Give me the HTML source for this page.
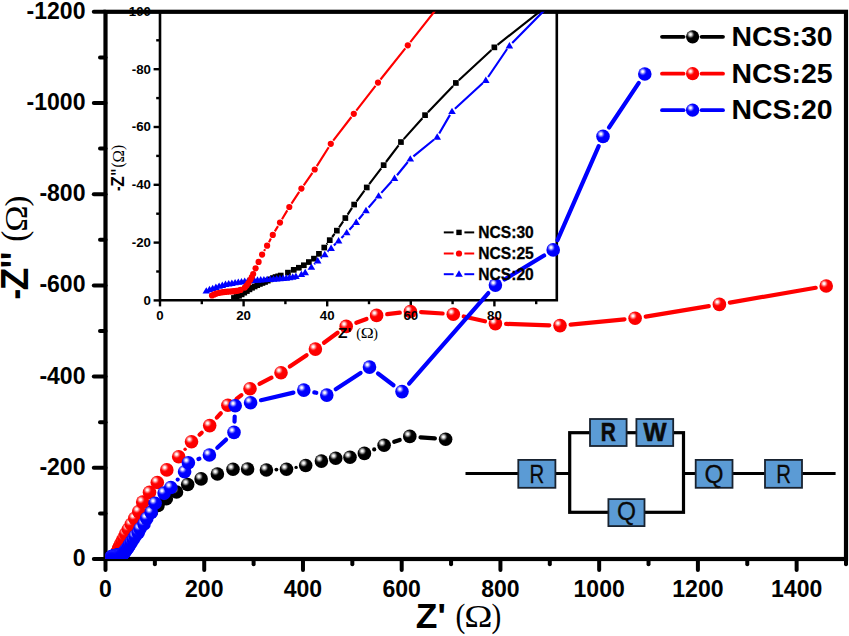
<!DOCTYPE html>
<html><head><meta charset="utf-8"><title>Nyquist plot</title>
<style>
html,body{margin:0;padding:0;background:#fff;}
body{width:849px;height:636px;overflow:hidden;font-family:"Liberation Sans",sans-serif;}
svg{display:block;}
</style></head><body>
<svg width="849" height="636" viewBox="0 0 849 636">
<defs>
<radialGradient id="gk" cx="0.35" cy="0.33" r="0.62" fx="0.34" fy="0.32">
<stop offset="0" stop-color="#ffffff"/><stop offset="0.11" stop-color="#f2f2f2"/><stop offset="0.27" stop-color="#8a8a8a"/><stop offset="0.42" stop-color="#161616"/><stop offset="0.52" stop-color="#000"/><stop offset="1" stop-color="#000"/>
</radialGradient>
<radialGradient id="gr" cx="0.35" cy="0.33" r="0.62" fx="0.34" fy="0.32">
<stop offset="0" stop-color="#ffffff"/><stop offset="0.11" stop-color="#fff0f0"/><stop offset="0.27" stop-color="#ff7878"/><stop offset="0.42" stop-color="#ff1212"/><stop offset="0.52" stop-color="#ff0000"/><stop offset="1" stop-color="#fa0000"/>
</radialGradient>
<radialGradient id="gb" cx="0.35" cy="0.33" r="0.62" fx="0.34" fy="0.32">
<stop offset="0" stop-color="#ffffff"/><stop offset="0.11" stop-color="#f0f0ff"/><stop offset="0.27" stop-color="#7878ff"/><stop offset="0.42" stop-color="#1212ff"/><stop offset="0.52" stop-color="#0000ff"/><stop offset="1" stop-color="#0000fa"/>
</radialGradient>
<clipPath id="cm"><rect x="105.5" y="11.8" width="740.5" height="547.2"/></clipPath>
<clipPath id="ci"><rect x="160" y="11.8" width="396.8" height="288.6"/></clipPath>
</defs>
<rect x="0" y="0" width="849" height="636" fill="#fff"/>
<rect x="105.5" y="11.8" width="740.5" height="547.2" fill="none" stroke="#000" stroke-width="4.2"/>
<g stroke="#000" stroke-width="4" stroke-linecap="round">
<line x1="93.8" y1="559.00" x2="105.5" y2="559.00"/>
<line x1="100" y1="513.40" x2="105.5" y2="513.40"/>
<line x1="93.8" y1="467.80" x2="105.5" y2="467.80"/>
<line x1="100" y1="422.20" x2="105.5" y2="422.20"/>
<line x1="93.8" y1="376.60" x2="105.5" y2="376.60"/>
<line x1="100" y1="331.00" x2="105.5" y2="331.00"/>
<line x1="93.8" y1="285.40" x2="105.5" y2="285.40"/>
<line x1="100" y1="239.80" x2="105.5" y2="239.80"/>
<line x1="93.8" y1="194.20" x2="105.5" y2="194.20"/>
<line x1="100" y1="148.60" x2="105.5" y2="148.60"/>
<line x1="93.8" y1="103.00" x2="105.5" y2="103.00"/>
<line x1="100" y1="57.40" x2="105.5" y2="57.40"/>
<line x1="93.8" y1="11.80" x2="105.5" y2="11.80"/>
<line x1="105.50" y1="559.0" x2="105.50" y2="570"/>
<line x1="154.87" y1="559.0" x2="154.87" y2="564.2"/>
<line x1="204.23" y1="559.0" x2="204.23" y2="570"/>
<line x1="253.60" y1="559.0" x2="253.60" y2="564.2"/>
<line x1="302.97" y1="559.0" x2="302.97" y2="570"/>
<line x1="352.33" y1="559.0" x2="352.33" y2="564.2"/>
<line x1="401.70" y1="559.0" x2="401.70" y2="570"/>
<line x1="451.07" y1="559.0" x2="451.07" y2="564.2"/>
<line x1="500.43" y1="559.0" x2="500.43" y2="570"/>
<line x1="549.80" y1="559.0" x2="549.80" y2="564.2"/>
<line x1="599.17" y1="559.0" x2="599.17" y2="570"/>
<line x1="648.53" y1="559.0" x2="648.53" y2="564.2"/>
<line x1="697.90" y1="559.0" x2="697.90" y2="570"/>
<line x1="747.27" y1="559.0" x2="747.27" y2="564.2"/>
<line x1="796.63" y1="559.0" x2="796.63" y2="570"/>
<line x1="846.00" y1="559.0" x2="846.00" y2="564.2"/>
</g>
<path d="M160.0,11.8 V300.3 H556.8 V11.8" fill="none" stroke="#000" stroke-width="2.6"/>
<g stroke="#000" stroke-width="2.4">
<line x1="153.6" y1="300.40" x2="160.0" y2="300.40"/>
<line x1="156.2" y1="271.50" x2="160.0" y2="271.50"/>
<line x1="153.6" y1="242.60" x2="160.0" y2="242.60"/>
<line x1="156.2" y1="213.70" x2="160.0" y2="213.70"/>
<line x1="153.6" y1="184.80" x2="160.0" y2="184.80"/>
<line x1="156.2" y1="155.90" x2="160.0" y2="155.90"/>
<line x1="153.6" y1="127.00" x2="160.0" y2="127.00"/>
<line x1="156.2" y1="98.10" x2="160.0" y2="98.10"/>
<line x1="153.6" y1="69.20" x2="160.0" y2="69.20"/>
<line x1="156.2" y1="40.30" x2="160.0" y2="40.30"/>
<line x1="160.00" y1="300.3" x2="160.00" y2="306.4"/>
<line x1="201.80" y1="300.3" x2="201.80" y2="304.2"/>
<line x1="243.60" y1="300.3" x2="243.60" y2="306.4"/>
<line x1="285.40" y1="300.3" x2="285.40" y2="304.2"/>
<line x1="327.20" y1="300.3" x2="327.20" y2="306.4"/>
<line x1="369.00" y1="300.3" x2="369.00" y2="304.2"/>
<line x1="410.80" y1="300.3" x2="410.80" y2="306.4"/>
<line x1="452.60" y1="300.3" x2="452.60" y2="304.2"/>
<line x1="494.40" y1="300.3" x2="494.40" y2="306.4"/>
<line x1="536.20" y1="300.3" x2="536.20" y2="304.2"/>
</g>
<g clip-path="url(#cm)">
<g stroke="#000" stroke-width="4.2" fill="none">
<line x1="394.2" y1="441.8" x2="399.7" y2="439.9" stroke-linecap="round"/>
<line x1="420.5" y1="437.3" x2="434.9" y2="438.4" stroke-linecap="round"/>
</g>
<g fill="#000"><circle cx="276.4" cy="469.6" r="1.96"/><circle cx="296.1" cy="467.4" r="1.69"/><circle cx="374.2" cy="449.4" r="2.10"/></g>
<g fill="url(#gk)">
<circle cx="114.2" cy="558.2" r="6.8"/>
<circle cx="114.5" cy="558.1" r="6.8"/>
<circle cx="114.8" cy="557.9" r="6.8"/>
<circle cx="115.2" cy="557.6" r="6.8"/>
<circle cx="115.5" cy="557.4" r="6.8"/>
<circle cx="115.8" cy="557.1" r="6.8"/>
<circle cx="116.1" cy="556.9" r="6.8"/>
<circle cx="116.4" cy="556.6" r="6.8"/>
<circle cx="116.7" cy="556.4" r="6.8"/>
<circle cx="117.0" cy="556.2" r="6.8"/>
<circle cx="117.3" cy="556.0" r="6.8"/>
<circle cx="117.6" cy="555.9" r="6.8"/>
<circle cx="117.9" cy="555.7" r="6.8"/>
<circle cx="118.2" cy="555.5" r="6.8"/>
<circle cx="118.5" cy="555.3" r="6.8"/>
<circle cx="118.8" cy="555.1" r="6.8"/>
<circle cx="119.1" cy="554.9" r="6.8"/>
<circle cx="119.5" cy="554.8" r="6.8"/>
<circle cx="119.8" cy="554.7" r="6.8"/>
<circle cx="120.6" cy="554.2" r="6.8"/>
<circle cx="121.3" cy="553.8" r="6.8"/>
<circle cx="121.9" cy="553.5" r="6.8"/>
<circle cx="122.5" cy="553.1" r="6.8"/>
<circle cx="123.1" cy="552.6" r="6.8"/>
<circle cx="123.7" cy="552.0" r="6.8"/>
<circle cx="124.3" cy="551.3" r="6.8"/>
<circle cx="124.9" cy="550.3" r="6.8"/>
<circle cx="125.6" cy="549.1" r="6.8"/>
<circle cx="126.4" cy="547.6" r="6.8"/>
<circle cx="127.4" cy="545.6" r="6.8"/>
<circle cx="128.4" cy="543.5" r="6.8"/>
<circle cx="129.9" cy="540.8" r="6.8"/>
<circle cx="131.9" cy="537.3" r="6.8"/>
<circle cx="134.0" cy="533.6" r="6.8"/>
<circle cx="136.8" cy="529.4" r="6.8"/>
<circle cx="140.5" cy="524.3" r="6.8"/>
<circle cx="145.0" cy="518.7" r="6.8"/>
<circle cx="151.3" cy="512.0" r="6.8"/>
<circle cx="158.0" cy="505.5" r="6.8"/>
<circle cx="166.3" cy="498.7" r="6.8"/>
<circle cx="176.5" cy="492.0" r="6.8"/>
<circle cx="187.7" cy="484.5" r="6.8"/>
<circle cx="201.1" cy="478.9" r="6.8"/>
<circle cx="217.4" cy="474.0" r="6.8"/>
<circle cx="233.0" cy="469.3" r="6.8"/>
<circle cx="247.6" cy="469.0" r="6.8"/>
<circle cx="266.4" cy="470.0" r="6.8"/>
<circle cx="286.5" cy="469.3" r="6.8"/>
<circle cx="305.7" cy="465.5" r="6.8"/>
<circle cx="321.4" cy="461.1" r="6.8"/>
<circle cx="335.7" cy="458.2" r="6.8"/>
<circle cx="350.0" cy="457.3" r="6.8"/>
<circle cx="364.4" cy="453.4" r="6.8"/>
<circle cx="384.1" cy="445.3" r="6.8"/>
<circle cx="409.8" cy="436.4" r="6.8"/>
<circle cx="445.6" cy="439.3" r="6.8"/>
</g>
<g stroke="#ff0000" stroke-width="4.2" fill="none">
<line x1="199.5" y1="434.7" x2="201.7" y2="432.7" stroke-linecap="round"/>
<line x1="216.8" y1="417.6" x2="220.8" y2="413.3" stroke-linecap="round"/>
<line x1="236.5" y1="398.9" x2="241.4" y2="395.1" stroke-linecap="round"/>
<line x1="259.5" y1="383.8" x2="271.5" y2="377.6" stroke-linecap="round"/>
<line x1="289.8" y1="366.6" x2="306.6" y2="355.2" stroke-linecap="round"/>
<line x1="324.0" y1="342.8" x2="337.6" y2="332.7" stroke-linecap="round"/>
<line x1="356.3" y1="322.8" x2="366.5" y2="319.0" stroke-linecap="round"/>
<line x1="387.2" y1="314.2" x2="399.8" y2="312.7" stroke-linecap="round"/>
<line x1="421.1" y1="312.2" x2="442.6" y2="313.5" stroke-linecap="round"/>
<line x1="463.7" y1="316.5" x2="485.0" y2="321.3" stroke-linecap="round"/>
<line x1="506.1" y1="323.9" x2="549.3" y2="325.3" stroke-linecap="round"/>
<line x1="570.6" y1="324.6" x2="624.5" y2="319.3" stroke-linecap="round"/>
<line x1="645.7" y1="316.6" x2="708.8" y2="306.1" stroke-linecap="round"/>
<line x1="729.9" y1="302.6" x2="815.7" y2="287.8" stroke-linecap="round"/>
</g>
<g fill="#ff0000"><circle cx="185.1" cy="449.2" r="1.72"/></g>
<g fill="url(#gr)">
<circle cx="111.6" cy="557.8" r="6.8"/>
<circle cx="111.9" cy="557.6" r="6.8"/>
<circle cx="112.2" cy="557.5" r="6.8"/>
<circle cx="112.4" cy="557.4" r="6.8"/>
<circle cx="112.7" cy="557.4" r="6.8"/>
<circle cx="112.9" cy="557.3" r="6.8"/>
<circle cx="113.2" cy="557.3" r="6.8"/>
<circle cx="113.5" cy="557.2" r="6.8"/>
<circle cx="113.7" cy="557.2" r="6.8"/>
<circle cx="114.0" cy="557.2" r="6.8"/>
<circle cx="114.2" cy="557.1" r="6.8"/>
<circle cx="114.5" cy="557.1" r="6.8"/>
<circle cx="114.8" cy="557.1" r="6.8"/>
<circle cx="115.0" cy="556.9" r="6.8"/>
<circle cx="115.5" cy="556.6" r="6.8"/>
<circle cx="115.7" cy="556.3" r="6.8"/>
<circle cx="115.9" cy="555.9" r="6.8"/>
<circle cx="116.2" cy="555.4" r="6.8"/>
<circle cx="116.3" cy="554.9" r="6.8"/>
<circle cx="116.5" cy="554.4" r="6.8"/>
<circle cx="116.8" cy="553.5" r="6.8"/>
<circle cx="117.1" cy="552.5" r="6.8"/>
<circle cx="117.6" cy="551.4" r="6.8"/>
<circle cx="118.2" cy="550.0" r="6.8"/>
<circle cx="118.8" cy="548.3" r="6.8"/>
<circle cx="119.7" cy="546.3" r="6.8"/>
<circle cx="120.8" cy="543.9" r="6.8"/>
<circle cx="122.2" cy="541.0" r="6.8"/>
<circle cx="123.8" cy="538.0" r="6.8"/>
<circle cx="125.7" cy="533.9" r="6.8"/>
<circle cx="128.4" cy="529.2" r="6.8"/>
<circle cx="131.3" cy="524.3" r="6.8"/>
<circle cx="134.8" cy="518.4" r="6.8"/>
<circle cx="138.8" cy="511.6" r="6.8"/>
<circle cx="142.7" cy="502.1" r="6.8"/>
<circle cx="149.5" cy="492.4" r="6.8"/>
<circle cx="157.3" cy="482.5" r="6.8"/>
<circle cx="166.8" cy="469.9" r="6.8"/>
<circle cx="178.7" cy="456.7" r="6.8"/>
<circle cx="191.5" cy="441.8" r="6.8"/>
<circle cx="209.7" cy="425.6" r="6.8"/>
<circle cx="227.9" cy="405.3" r="6.8"/>
<circle cx="250.0" cy="388.7" r="6.8"/>
<circle cx="281.0" cy="372.7" r="6.8"/>
<circle cx="315.4" cy="349.1" r="6.8"/>
<circle cx="346.2" cy="326.4" r="6.8"/>
<circle cx="376.6" cy="315.4" r="6.8"/>
<circle cx="410.4" cy="311.5" r="6.8"/>
<circle cx="453.3" cy="314.2" r="6.8"/>
<circle cx="495.4" cy="323.6" r="6.8"/>
<circle cx="560.0" cy="325.6" r="6.8"/>
<circle cx="635.1" cy="318.3" r="6.8"/>
<circle cx="719.4" cy="304.4" r="6.8"/>
<circle cx="826.2" cy="286.0" r="6.8"/>
</g>
<g stroke="#0000ff" stroke-width="4.2" fill="none">
<line x1="198.4" y1="459.0" x2="199.4" y2="458.7" stroke-linecap="round"/>
<line x1="217.3" y1="447.8" x2="226.1" y2="439.6" stroke-linecap="round"/>
<line x1="234.5" y1="421.7" x2="234.7" y2="416.5" stroke-linecap="round"/>
<line x1="261.0" y1="400.2" x2="293.4" y2="392.6" stroke-linecap="round"/>
<line x1="314.3" y1="392.4" x2="316.3" y2="392.8" stroke-linecap="round"/>
<line x1="335.7" y1="389.2" x2="360.6" y2="373.0" stroke-linecap="round"/>
<line x1="378.0" y1="373.5" x2="393.5" y2="385.2" stroke-linecap="round"/>
<line x1="409.1" y1="383.6" x2="488.3" y2="293.1" stroke-linecap="round"/>
<line x1="504.5" y1="279.5" x2="544.1" y2="255.5" stroke-linecap="round"/>
<line x1="557.5" y1="240.1" x2="598.7" y2="146.2" stroke-linecap="round"/>
<line x1="609.0" y1="127.5" x2="638.8" y2="82.9" stroke-linecap="round"/>
</g>
<g fill="#0000ff"><circle cx="177.7" cy="479.6" r="2.10"/></g>
<g fill="url(#gb)">
<circle cx="111.0" cy="557.1" r="6.8"/>
<circle cx="111.3" cy="556.9" r="6.8"/>
<circle cx="111.7" cy="556.7" r="6.8"/>
<circle cx="112.1" cy="556.5" r="6.8"/>
<circle cx="112.5" cy="556.3" r="6.8"/>
<circle cx="112.9" cy="556.2" r="6.8"/>
<circle cx="113.2" cy="556.1" r="6.8"/>
<circle cx="113.6" cy="556.0" r="6.8"/>
<circle cx="114.0" cy="555.9" r="6.8"/>
<circle cx="114.4" cy="555.8" r="6.8"/>
<circle cx="114.7" cy="555.7" r="6.8"/>
<circle cx="115.1" cy="555.6" r="6.8"/>
<circle cx="115.5" cy="555.6" r="6.8"/>
<circle cx="115.9" cy="555.5" r="6.8"/>
<circle cx="116.3" cy="555.5" r="6.8"/>
<circle cx="116.6" cy="555.4" r="6.8"/>
<circle cx="117.0" cy="555.4" r="6.8"/>
<circle cx="117.4" cy="555.4" r="6.8"/>
<circle cx="117.8" cy="555.3" r="6.8"/>
<circle cx="118.2" cy="555.3" r="6.8"/>
<circle cx="118.5" cy="555.3" r="6.8"/>
<circle cx="118.9" cy="555.2" r="6.8"/>
<circle cx="119.3" cy="555.2" r="6.8"/>
<circle cx="119.7" cy="555.2" r="6.8"/>
<circle cx="120.0" cy="555.1" r="6.8"/>
<circle cx="120.4" cy="555.1" r="6.8"/>
<circle cx="120.8" cy="555.0" r="6.8"/>
<circle cx="121.2" cy="554.9" r="6.8"/>
<circle cx="121.6" cy="554.8" r="6.8"/>
<circle cx="122.2" cy="554.5" r="6.8"/>
<circle cx="122.7" cy="554.2" r="6.8"/>
<circle cx="123.4" cy="553.3" r="6.8"/>
<circle cx="124.1" cy="552.4" r="6.8"/>
<circle cx="125.0" cy="551.4" r="6.8"/>
<circle cx="125.7" cy="550.4" r="6.8"/>
<circle cx="126.6" cy="549.2" r="6.8"/>
<circle cx="127.6" cy="547.9" r="6.8"/>
<circle cx="128.7" cy="546.3" r="6.8"/>
<circle cx="129.8" cy="544.4" r="6.8"/>
<circle cx="131.3" cy="542.1" r="6.8"/>
<circle cx="133.2" cy="539.3" r="6.8"/>
<circle cx="135.1" cy="536.3" r="6.8"/>
<circle cx="138.2" cy="532.8" r="6.8"/>
<circle cx="140.0" cy="528.8" r="6.8"/>
<circle cx="144.0" cy="523.9" r="6.8"/>
<circle cx="146.8" cy="518.4" r="6.8"/>
<circle cx="151.2" cy="512.4" r="6.8"/>
<circle cx="155.1" cy="503.2" r="6.8"/>
<circle cx="164.1" cy="493.1" r="6.8"/>
<circle cx="170.8" cy="487.5" r="6.8"/>
<circle cx="184.6" cy="471.7" r="6.8"/>
<circle cx="188.4" cy="462.7" r="6.8"/>
<circle cx="209.4" cy="455.0" r="6.8"/>
<circle cx="234.0" cy="432.4" r="6.8"/>
<circle cx="235.2" cy="405.8" r="6.8"/>
<circle cx="250.6" cy="402.7" r="6.8"/>
<circle cx="303.8" cy="390.1" r="6.8"/>
<circle cx="326.8" cy="395.1" r="6.8"/>
<circle cx="369.5" cy="367.1" r="6.8"/>
<circle cx="402.0" cy="391.6" r="6.8"/>
<circle cx="495.4" cy="285.1" r="6.8"/>
<circle cx="553.2" cy="249.9" r="6.8"/>
<circle cx="603.0" cy="136.4" r="6.8"/>
<circle cx="644.8" cy="74.0" r="6.8"/>
</g>
</g>
<text transform="translate(85.50,565.90) scale(0.96,1)" font-family='"Liberation Sans", sans-serif' font-size="24.0" font-weight="bold" text-anchor="end" fill="#000" >0</text>
<text transform="translate(85.50,474.70) scale(0.96,1)" font-family='"Liberation Sans", sans-serif' font-size="24.0" font-weight="bold" text-anchor="end" fill="#000" >-200</text>
<text transform="translate(85.50,383.50) scale(0.96,1)" font-family='"Liberation Sans", sans-serif' font-size="24.0" font-weight="bold" text-anchor="end" fill="#000" >-400</text>
<text transform="translate(85.50,292.30) scale(0.96,1)" font-family='"Liberation Sans", sans-serif' font-size="24.0" font-weight="bold" text-anchor="end" fill="#000" >-600</text>
<text transform="translate(85.50,201.10) scale(0.96,1)" font-family='"Liberation Sans", sans-serif' font-size="24.0" font-weight="bold" text-anchor="end" fill="#000" >-800</text>
<text transform="translate(85.50,109.90) scale(0.96,1)" font-family='"Liberation Sans", sans-serif' font-size="24.0" font-weight="bold" text-anchor="end" fill="#000" >-1000</text>
<text transform="translate(85.50,18.70) scale(0.96,1)" font-family='"Liberation Sans", sans-serif' font-size="24.0" font-weight="bold" text-anchor="end" fill="#000" >-1200</text>
<text transform="translate(105.50,596.50) scale(0.96,1)" font-family='"Liberation Sans", sans-serif' font-size="24.0" font-weight="bold" text-anchor="middle" fill="#000" >0</text>
<text transform="translate(204.23,596.50) scale(0.96,1)" font-family='"Liberation Sans", sans-serif' font-size="24.0" font-weight="bold" text-anchor="middle" fill="#000" >200</text>
<text transform="translate(302.97,596.50) scale(0.96,1)" font-family='"Liberation Sans", sans-serif' font-size="24.0" font-weight="bold" text-anchor="middle" fill="#000" >400</text>
<text transform="translate(401.70,596.50) scale(0.96,1)" font-family='"Liberation Sans", sans-serif' font-size="24.0" font-weight="bold" text-anchor="middle" fill="#000" >600</text>
<text transform="translate(500.43,596.50) scale(0.96,1)" font-family='"Liberation Sans", sans-serif' font-size="24.0" font-weight="bold" text-anchor="middle" fill="#000" >800</text>
<text transform="translate(599.17,596.50) scale(0.96,1)" font-family='"Liberation Sans", sans-serif' font-size="24.0" font-weight="bold" text-anchor="middle" fill="#000" >1000</text>
<text transform="translate(697.90,596.50) scale(0.96,1)" font-family='"Liberation Sans", sans-serif' font-size="24.0" font-weight="bold" text-anchor="middle" fill="#000" >1200</text>
<text transform="translate(796.63,596.50) scale(0.96,1)" font-family='"Liberation Sans", sans-serif' font-size="24.0" font-weight="bold" text-anchor="middle" fill="#000" >1400</text>
<text transform="translate(415.80,627.50) scale(1.03,1)" font-family='"Liberation Sans", sans-serif' font-size="34.4" font-weight="bold" text-anchor="start" fill="#000" >Z'</text>
<text transform="translate(455.60,626.50) scale(0.88,1)" font-family='"Liberation Serif", serif' font-size="33.5" font-weight="normal" text-anchor="start" fill="#000" >(</text>
<text transform="translate(478.50,627.30) scale(1.17,1)" font-family='"Liberation Serif", serif' font-size="32.5" font-weight="normal" text-anchor="middle" fill="#000" >&#937;</text>
<text transform="translate(501.40,626.50) scale(0.88,1)" font-family='"Liberation Serif", serif' font-size="33.5" font-weight="normal" text-anchor="end" fill="#000" >)</text>
<text transform="translate(28.20,299.50) rotate(-90) scale(0.84,1)" font-family='"Liberation Sans", sans-serif' font-size="38" font-weight="bold" text-anchor="start" fill="#000" >-</text>
<text transform="translate(28.20,290.20) rotate(-90) scale(0.97,1)" font-family='"Liberation Sans", sans-serif' font-size="38" font-weight="bold" text-anchor="start" fill="#000" >Z</text>
<text transform="translate(28.20,268.20) rotate(-90) scale(0.91,1)" font-family='"Liberation Sans", sans-serif' font-size="38" font-weight="bold" text-anchor="start" fill="#000" >''</text>
<text transform="translate(26.10,241.70) rotate(-90) scale(0.95,1)" font-family='"Liberation Serif", serif' font-size="35.0" font-weight="normal" text-anchor="start" fill="#000" >(</text>
<text transform="translate(26.60,218.60) rotate(-90) scale(1.095,1)" font-family='"Liberation Serif", serif' font-size="32.4" font-weight="normal" text-anchor="middle" fill="#000" >&#937;</text>
<text transform="translate(26.60,195.60) rotate(-90) scale(1.0,1)" font-family='"Liberation Serif", serif' font-size="32.5" font-weight="normal" text-anchor="end" fill="#000" >)</text>
<g clip-path="url(#ci)">
<path d="M326.7,244.3L327.4,243.4M332.2,237.0L334.5,233.8M339.1,227.3L343.2,221.3M347.6,214.6L352.0,207.9M356.6,201.3L364.4,190.6M369.2,184.2L381.2,168.4M386.0,162.0L398.6,145.3M403.7,139.1L422.4,118.2M427.9,112.3L453.1,85.9M458.8,80.3L491.5,50.0M497.5,44.8L544.9,7.5M551.2,2.6L601.2,-34.0M607.9,-38.4L671.3,-77.3" fill="none" stroke="#000" stroke-width="2.15"/>
<g fill="#000">
<rect x="231.1" y="295.1" width="5.7" height="5.7"/>
<rect x="233.7" y="294.1" width="5.7" height="5.7"/>
<rect x="236.2" y="292.9" width="5.7" height="5.7"/>
<rect x="238.8" y="291.5" width="5.7" height="5.7"/>
<rect x="241.4" y="289.8" width="5.7" height="5.7"/>
<rect x="244.0" y="288.2" width="5.7" height="5.7"/>
<rect x="246.6" y="286.5" width="5.7" height="5.7"/>
<rect x="249.2" y="284.9" width="5.7" height="5.7"/>
<rect x="251.8" y="283.6" width="5.7" height="5.7"/>
<rect x="254.4" y="282.3" width="5.7" height="5.7"/>
<rect x="257.0" y="281.1" width="5.7" height="5.7"/>
<rect x="259.6" y="280.1" width="5.7" height="5.7"/>
<rect x="262.2" y="279.1" width="5.7" height="5.7"/>
<rect x="264.9" y="277.8" width="5.7" height="5.7"/>
<rect x="267.5" y="276.5" width="5.7" height="5.7"/>
<rect x="270.1" y="275.2" width="5.7" height="5.7"/>
<rect x="272.7" y="274.2" width="5.7" height="5.7"/>
<rect x="275.3" y="273.5" width="5.7" height="5.7"/>
<rect x="277.9" y="272.7" width="5.7" height="5.7"/>
<rect x="285.1" y="269.8" width="5.7" height="5.7"/>
<rect x="290.9" y="267.0" width="5.7" height="5.7"/>
<rect x="296.0" y="264.9" width="5.7" height="5.7"/>
<rect x="301.0" y="262.4" width="5.7" height="5.7"/>
<rect x="306.0" y="259.2" width="5.7" height="5.7"/>
<rect x="311.1" y="255.8" width="5.7" height="5.7"/>
<rect x="316.1" y="251.0" width="5.7" height="5.7"/>
<rect x="321.4" y="244.7" width="5.7" height="5.7"/>
<rect x="326.9" y="237.3" width="5.7" height="5.7"/>
<rect x="334.0" y="227.8" width="5.7" height="5.7"/>
<rect x="342.5" y="215.2" width="5.7" height="5.7"/>
<rect x="351.3" y="201.7" width="5.7" height="5.7"/>
<rect x="363.9" y="184.6" width="5.7" height="5.7"/>
<rect x="380.8" y="162.3" width="5.7" height="5.7"/>
<rect x="398.1" y="139.2" width="5.7" height="5.7"/>
<rect x="422.2" y="112.3" width="5.7" height="5.7"/>
<rect x="453.0" y="80.1" width="5.7" height="5.7"/>
<rect x="491.5" y="44.5" width="5.7" height="5.7"/>
</g></g>
<g clip-path="url(#ci)">
<path d="M314.2,264.3L314.9,263.6M320.7,258.1L321.8,257.2M327.6,251.7L328.3,251.0M333.9,245.4L335.8,243.5M341.4,237.9L343.9,235.4M349.4,229.7L353.5,225.2M358.8,219.2L363.4,213.6M368.6,207.5L376.0,198.9M381.3,192.9L391.8,181.3M397.0,175.2L407.8,162.0M413.4,156.4L434.1,139.5M439.2,133.5L450.0,114.9M454.9,108.7L482.9,83.0M488.1,77.0L507.1,49.0M512.2,42.9L544.2,10.4M549.0,4.1L577.9,-47.4M583.0,-53.5L653.0,-112.4M659.5,-117.1L709.4,-148.3" fill="none" stroke="#0000ff" stroke-width="2.15"/>
<g fill="#0000ff">
<path d="M206.3,287.2 l3.8,6.4 h-7.6 z"/>
<path d="M209.5,285.8 l3.8,6.4 h-7.6 z"/>
<path d="M212.7,284.7 l3.8,6.4 h-7.6 z"/>
<path d="M215.9,283.6 l3.8,6.4 h-7.6 z"/>
<path d="M219.1,282.4 l3.8,6.4 h-7.6 z"/>
<path d="M222.3,281.5 l3.8,6.4 h-7.6 z"/>
<path d="M225.5,280.6 l3.8,6.4 h-7.6 z"/>
<path d="M228.7,280.0 l3.8,6.4 h-7.6 z"/>
<path d="M231.9,279.5 l3.8,6.4 h-7.6 z"/>
<path d="M235.1,278.9 l3.8,6.4 h-7.6 z"/>
<path d="M238.3,278.4 l3.8,6.4 h-7.6 z"/>
<path d="M241.5,278.0 l3.8,6.4 h-7.6 z"/>
<path d="M244.7,277.5 l3.8,6.4 h-7.6 z"/>
<path d="M247.9,277.2 l3.8,6.4 h-7.6 z"/>
<path d="M251.1,276.9 l3.8,6.4 h-7.6 z"/>
<path d="M254.3,276.6 l3.8,6.4 h-7.6 z"/>
<path d="M257.5,276.3 l3.8,6.4 h-7.6 z"/>
<path d="M260.7,276.1 l3.8,6.4 h-7.6 z"/>
<path d="M263.9,275.9 l3.8,6.4 h-7.6 z"/>
<path d="M267.1,275.7 l3.8,6.4 h-7.6 z"/>
<path d="M270.3,275.5 l3.8,6.4 h-7.6 z"/>
<path d="M273.5,275.3 l3.8,6.4 h-7.6 z"/>
<path d="M276.7,275.1 l3.8,6.4 h-7.6 z"/>
<path d="M279.9,274.8 l3.8,6.4 h-7.6 z"/>
<path d="M283.1,274.6 l3.8,6.4 h-7.6 z"/>
<path d="M286.3,274.3 l3.8,6.4 h-7.6 z"/>
<path d="M289.5,273.8 l3.8,6.4 h-7.6 z"/>
<path d="M292.7,273.3 l3.8,6.4 h-7.6 z"/>
<path d="M295.9,272.5 l3.8,6.4 h-7.6 z"/>
<path d="M301.4,270.7 l3.8,6.4 h-7.6 z"/>
<path d="M305.2,268.8 l3.8,6.4 h-7.6 z"/>
<path d="M311.4,263.4 l3.8,6.4 h-7.6 z"/>
<path d="M317.7,257.1 l3.8,6.4 h-7.6 z"/>
<path d="M324.8,250.8 l3.8,6.4 h-7.6 z"/>
<path d="M331.1,244.5 l3.8,6.4 h-7.6 z"/>
<path d="M338.6,237.0 l3.8,6.4 h-7.6 z"/>
<path d="M346.7,228.9 l3.8,6.4 h-7.6 z"/>
<path d="M356.2,218.6 l3.8,6.4 h-7.6 z"/>
<path d="M366.0,206.8 l3.8,6.4 h-7.6 z"/>
<path d="M378.6,192.2 l3.8,6.4 h-7.6 z"/>
<path d="M394.5,174.6 l3.8,6.4 h-7.6 z"/>
<path d="M410.3,155.2 l3.8,6.4 h-7.6 z"/>
<path d="M437.2,133.3 l3.8,6.4 h-7.6 z"/>
<path d="M452.0,107.7 l3.8,6.4 h-7.6 z"/>
<path d="M485.8,76.6 l3.8,6.4 h-7.6 z"/>
<path d="M509.4,42.0 l3.8,6.4 h-7.6 z"/>
</g></g>
<g clip-path="url(#ci)">
<path d="M264.1,251.1L265.1,249.2M269.0,242.2L270.9,238.4M274.8,231.4L278.0,226.1M282.0,219.2L287.3,210.4M291.5,203.7L299.2,191.9M303.7,185.3L312.4,172.8M316.8,166.1L328.7,147.2M333.2,140.6L351.4,117.0M356.3,110.6L375.5,85.8M380.5,79.5L405.3,48.4M410.3,42.2L439.0,5.7M443.4,-0.9L473.0,-54.4M477.7,-60.8L529.8,-116.5M535.4,-122.1L595.6,-179.4M601.4,-185.0L676.1,-259.2" fill="none" stroke="#ff0000" stroke-width="2.15"/>
<g fill="#ff0000">
<circle cx="212.0" cy="295.5" r="3.1"/>
<circle cx="214.2" cy="294.4" r="3.1"/>
<circle cx="216.4" cy="293.6" r="3.1"/>
<circle cx="218.6" cy="293.0" r="3.1"/>
<circle cx="220.8" cy="292.5" r="3.1"/>
<circle cx="223.0" cy="292.2" r="3.1"/>
<circle cx="225.2" cy="291.9" r="3.1"/>
<circle cx="227.4" cy="291.7" r="3.1"/>
<circle cx="229.6" cy="291.5" r="3.1"/>
<circle cx="231.8" cy="291.4" r="3.1"/>
<circle cx="234.0" cy="291.2" r="3.1"/>
<circle cx="236.2" cy="290.9" r="3.1"/>
<circle cx="238.4" cy="290.6" r="3.1"/>
<circle cx="240.6" cy="289.9" r="3.1"/>
<circle cx="244.8" cy="287.6" r="3.1"/>
<circle cx="246.6" cy="285.6" r="3.1"/>
<circle cx="248.4" cy="283.0" r="3.1"/>
<circle cx="250.3" cy="279.8" r="3.1"/>
<circle cx="251.8" cy="277.0" r="3.1"/>
<circle cx="253.2" cy="274.0" r="3.1"/>
<circle cx="255.6" cy="268.3" r="3.1"/>
<circle cx="258.6" cy="261.9" r="3.1"/>
<circle cx="262.1" cy="254.6" r="3.1"/>
<circle cx="267.1" cy="245.7" r="3.1"/>
<circle cx="272.8" cy="234.9" r="3.1"/>
<circle cx="280.0" cy="222.6" r="3.1"/>
<circle cx="289.3" cy="207.0" r="3.1"/>
<circle cx="301.4" cy="188.6" r="3.1"/>
<circle cx="314.7" cy="169.5" r="3.1"/>
<circle cx="330.8" cy="143.8" r="3.1"/>
<circle cx="353.8" cy="113.8" r="3.1"/>
<circle cx="378.0" cy="82.6" r="3.1"/>
<circle cx="407.8" cy="45.3" r="3.1"/>
</g></g>
<text transform="translate(151.00,304.70) scale(1.08,1)" font-family='"Liberation Sans", sans-serif' font-size="12.3" font-weight="bold" text-anchor="end" fill="#000" >0</text>
<text transform="translate(151.00,246.90) scale(1.08,1)" font-family='"Liberation Sans", sans-serif' font-size="12.3" font-weight="bold" text-anchor="end" fill="#000" >-20</text>
<text transform="translate(151.00,189.10) scale(1.08,1)" font-family='"Liberation Sans", sans-serif' font-size="12.3" font-weight="bold" text-anchor="end" fill="#000" >-40</text>
<text transform="translate(151.00,131.30) scale(1.08,1)" font-family='"Liberation Sans", sans-serif' font-size="12.3" font-weight="bold" text-anchor="end" fill="#000" >-60</text>
<text transform="translate(151.00,73.50) scale(1.08,1)" font-family='"Liberation Sans", sans-serif' font-size="12.3" font-weight="bold" text-anchor="end" fill="#000" >-80</text>
<text transform="translate(151.00,15.70) scale(1.08,1)" font-family='"Liberation Sans", sans-serif' font-size="12.3" font-weight="bold" text-anchor="end" fill="#000" >-100</text>
<text transform="translate(160.00,320.20) scale(1.08,1)" font-family='"Liberation Sans", sans-serif' font-size="12.3" font-weight="bold" text-anchor="middle" fill="#000" >0</text>
<text transform="translate(243.60,320.20) scale(1.08,1)" font-family='"Liberation Sans", sans-serif' font-size="12.3" font-weight="bold" text-anchor="middle" fill="#000" >20</text>
<text transform="translate(327.20,320.20) scale(1.08,1)" font-family='"Liberation Sans", sans-serif' font-size="12.3" font-weight="bold" text-anchor="middle" fill="#000" >40</text>
<text transform="translate(410.80,320.20) scale(1.08,1)" font-family='"Liberation Sans", sans-serif' font-size="12.3" font-weight="bold" text-anchor="middle" fill="#000" >60</text>
<text transform="translate(494.40,320.20) scale(1.08,1)" font-family='"Liberation Sans", sans-serif' font-size="12.3" font-weight="bold" text-anchor="middle" fill="#000" >80</text>
<text transform="translate(338.00,338.40) scale(1.05,1)" font-family='"Liberation Sans", sans-serif' font-size="14.8" font-weight="bold" text-anchor="start" fill="#000" >Z'</text>
<text transform="translate(356.20,338.20) scale(0.9,1)" font-family='"Liberation Serif", serif' font-size="15.6" font-weight="normal" text-anchor="start" fill="#000" >(</text>
<text transform="translate(367.20,338.40) scale(1.15,1)" font-family='"Liberation Serif", serif' font-size="15.2" font-weight="normal" text-anchor="middle" fill="#000" >&#937;</text>
<text transform="translate(378.00,338.20) scale(0.9,1)" font-family='"Liberation Serif", serif' font-size="15.6" font-weight="normal" text-anchor="end" fill="#000" >)</text>
<text transform="translate(123.60,191.10) rotate(-90) scale(0.78,1)" font-family='"Liberation Sans", sans-serif' font-size="17.6" font-weight="bold" text-anchor="start" fill="#000" >-</text>
<text transform="translate(123.60,186.70) rotate(-90) scale(0.98,1)" font-family='"Liberation Sans", sans-serif' font-size="17.6" font-weight="bold" text-anchor="start" fill="#000" >Z</text>
<text transform="translate(123.60,175.50) rotate(-90) scale(0.8,1)" font-family='"Liberation Sans", sans-serif' font-size="17.6" font-weight="bold" text-anchor="start" fill="#000" >''</text>
<text transform="translate(123.30,167.50) rotate(-90) scale(0.87,1)" font-family='"Liberation Serif", serif' font-size="17.6" font-weight="normal" text-anchor="start" fill="#000" >(</text>
<text transform="translate(123.60,156.20) rotate(-90) scale(1.03,1)" font-family='"Liberation Serif", serif' font-size="16.3" font-weight="normal" text-anchor="middle" fill="#000" >&#937;</text>
<text transform="translate(123.30,144.90) rotate(-90) scale(0.87,1)" font-family='"Liberation Serif", serif' font-size="17.6" font-weight="normal" text-anchor="end" fill="#000" >)</text>
<g stroke="#000" stroke-width="2.0"><line x1="443.8" y1="232.4" x2="453.6" y2="232.4"/><line x1="464.4" y1="232.4" x2="474.2" y2="232.4"/></g>
<rect x="456.3" y="229.70000000000002" width="5.4" height="5.4" fill="#000"/>
<text transform="translate(478.20,237.90) scale(0.93,1)" font-family='"Liberation Sans", sans-serif' font-size="16.8" font-weight="bold" text-anchor="start" fill="#000" stroke="#000" stroke-width="0.3">NCS:30</text>
<g stroke="#ff0000" stroke-width="2.0"><line x1="443.8" y1="253.5" x2="453.6" y2="253.5"/><line x1="464.4" y1="253.5" x2="474.2" y2="253.5"/></g>
<circle cx="459" cy="253.5" r="3.1" fill="#ff0000"/>
<text transform="translate(478.20,259.00) scale(0.93,1)" font-family='"Liberation Sans", sans-serif' font-size="16.8" font-weight="bold" text-anchor="start" fill="#000" stroke="#000" stroke-width="0.3">NCS:25</text>
<g stroke="#0000ff" stroke-width="2.0"><line x1="443.8" y1="274.2" x2="453.6" y2="274.2"/><line x1="464.4" y1="274.2" x2="474.2" y2="274.2"/></g>
<path d="M459,270.3 l3.8,6.4 h-7.6 z" fill="#0000ff"/>
<text transform="translate(478.20,279.70) scale(0.93,1)" font-family='"Liberation Sans", sans-serif' font-size="16.8" font-weight="bold" text-anchor="start" fill="#000" stroke="#000" stroke-width="0.3">NCS:20</text>
<g stroke="#000" stroke-width="3.8" stroke-linecap="round"><line x1="662" y1="36.8" x2="683.6" y2="36.8"/><line x1="701.6" y1="36.8" x2="723" y2="36.8"/></g>
<circle cx="692.6" cy="36.8" r="6.6" fill="url(#gk)"/>
<text transform="translate(731.40,45.90) scale(1.024,1)" font-family='"Liberation Sans", sans-serif' font-size="27.8" font-weight="bold" text-anchor="start" fill="#000" >NCS:30</text>
<g stroke="#ff0000" stroke-width="3.8" stroke-linecap="round"><line x1="662" y1="73.7" x2="683.6" y2="73.7"/><line x1="701.6" y1="73.7" x2="723" y2="73.7"/></g>
<circle cx="692.6" cy="73.7" r="6.6" fill="url(#gr)"/>
<text transform="translate(731.40,83.20) scale(1.024,1)" font-family='"Liberation Sans", sans-serif' font-size="27.8" font-weight="bold" text-anchor="start" fill="#000" >NCS:25</text>
<g stroke="#0000ff" stroke-width="3.8" stroke-linecap="round"><line x1="662" y1="110.2" x2="683.6" y2="110.2"/><line x1="701.6" y1="110.2" x2="723" y2="110.2"/></g>
<circle cx="692.6" cy="110.2" r="6.6" fill="url(#gb)"/>
<text transform="translate(731.40,119.20) scale(1.024,1)" font-family='"Liberation Sans", sans-serif' font-size="27.8" font-weight="bold" text-anchor="start" fill="#000" >NCS:20</text>
<g stroke="#000" stroke-width="3.2" fill="none" stroke-linejoin="miter">
<line x1="465.5" y1="473.5" x2="569.7" y2="473.5"/>
<rect x="569.7" y="432.7" width="113.8" height="79.6"/>
<line x1="683.5" y1="473.5" x2="835.6" y2="473.5"/>
</g>
<rect x="518.30" y="459.90" width="37.10" height="27.90" fill="#5b9bd5" stroke="#18222f" stroke-width="1.8"/>
<text transform="translate(536.85,482.60) scale(0.8,1)" font-family='"Liberation Sans", sans-serif' font-size="25.5" font-weight="normal" text-anchor="middle" fill="#0a0a0a" stroke="#0a0a0a" stroke-width="0.25">R</text>
<rect x="590.00" y="419.00" width="36.60" height="27.00" fill="#5b9bd5" stroke="#18222f" stroke-width="1.8"/>
<text transform="translate(608.30,441.20) scale(0.82,1)" font-family='"Liberation Sans", sans-serif' font-size="25.5" font-weight="bold" text-anchor="middle" fill="#0a0a0a" stroke="#0a0a0a" stroke-width="0.5">R</text>
<rect x="636.40" y="419.00" width="36.80" height="27.00" fill="#5b9bd5" stroke="#18222f" stroke-width="1.8"/>
<text transform="translate(654.80,441.20) scale(0.97,1)" font-family='"Liberation Sans", sans-serif' font-size="25.5" font-weight="bold" text-anchor="middle" fill="#0a0a0a" stroke="#0a0a0a" stroke-width="0.5">W</text>
<rect x="608.40" y="499.10" width="36.10" height="27.00" fill="#5b9bd5" stroke="#18222f" stroke-width="1.8"/>
<text transform="translate(626.45,520.20) scale(0.96,1)" font-family='"Liberation Sans", sans-serif' font-size="25.5" font-weight="normal" text-anchor="middle" fill="#0a0a0a" stroke="#0a0a0a" stroke-width="0.25">Q</text>
<rect x="695.70" y="459.90" width="36.80" height="27.90" fill="#5b9bd5" stroke="#18222f" stroke-width="1.8"/>
<text transform="translate(714.10,482.60) scale(0.96,1)" font-family='"Liberation Sans", sans-serif' font-size="25.5" font-weight="normal" text-anchor="middle" fill="#0a0a0a" stroke="#0a0a0a" stroke-width="0.25">Q</text>
<rect x="765.00" y="459.90" width="37.00" height="27.90" fill="#5b9bd5" stroke="#18222f" stroke-width="1.8"/>
<text transform="translate(783.50,482.60) scale(0.8,1)" font-family='"Liberation Sans", sans-serif' font-size="25.5" font-weight="normal" text-anchor="middle" fill="#0a0a0a" stroke="#0a0a0a" stroke-width="0.25">R</text>
</svg>
</body></html>
